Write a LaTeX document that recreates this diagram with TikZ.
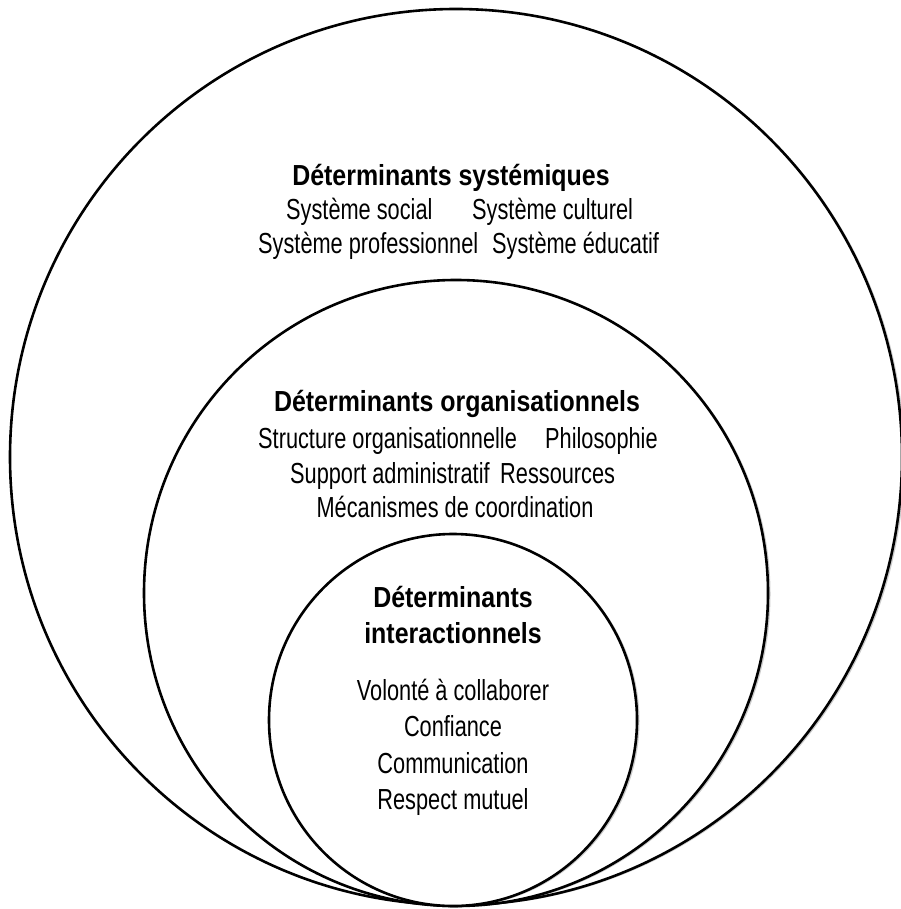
\documentclass[tikz,border=0pt]{standalone}
\usepackage{fontspec}
\setmainfont{Liberation Sans}[FakeStretch=0.75, BoldFeatures={FakeStretch=0.86}]
\usepackage{tikz}
\usetikzlibrary{shapes.geometric, positioning, shadows}

\begin{document}
\begin{tikzpicture}[
    x=1pt, y=-1pt,
    ring/.style={ellipse, draw, fill=white, line width=2.6pt, inner sep=0pt,
        drop shadow={shadow xshift=2.5pt, shadow yshift=-1pt, opacity=0.2, fill=black}},
    head/.style={font=\fontsize{29}{34}\selectfont\bfseries, inner sep=0pt, anchor=base},
    item/.style={font=\fontsize{29}{34}\selectfont, inner sep=0pt, anchor=base}
]
    \useasboundingbox (0,0) rectangle (900,909);

    % nested rings
    \node (sys) [ring, minimum width=892pt, minimum height=896pt] at (456,457) {};
    \node (org) [ring, minimum width=624pt, minimum height=626pt] at (456,593) {};
    \node (inter) [ring, minimum width=368pt, minimum height=372pt] at (453,720) {};

    % systemic level
    \node (sysT) [head] at (451,186) {Déterminants systémiques};
    \node (social) [item, anchor=base west] at (286,219) {Système social};
    \node (cult) [item, anchor=base west] at (472,219) {Système culturel};
    \node (prof) [item, anchor=base west] at (258,253) {Système professionnel};
    \node (educ) [item, anchor=base west] at (492,253) {Système éducatif};

    % organisational level
    \node (orgT) [head] at (457,411) {Déterminants organisationnels};
    \node (struct) [item, anchor=base west] at (258,448) {Structure organisationnelle};
    \node (philo) [item, anchor=base west] at (545,448) {Philosophie};
    \node (supp) [item, anchor=base west] at (290,483) {Support administratif};
    \node (ress) [item, anchor=base west] at (500,483) {Ressources};
    \node (meca) [item] at (455,517) {Mécanismes de coordination};

    % interactional level
    \node (interT) [head] at (453,607) {Déterminants};
    \node (interT2) [head] at (453,643) {interactionnels};
    \node (vol) [item] at (453,700) {Volonté à collaborer};
    \node (conf) [item] at (453,736) {Confiance};
    \node (comm) [item] at (453,773) {Communication};
    \node (resp) [item] at (453,809) {Respect mutuel};
\end{tikzpicture}
\end{document}
